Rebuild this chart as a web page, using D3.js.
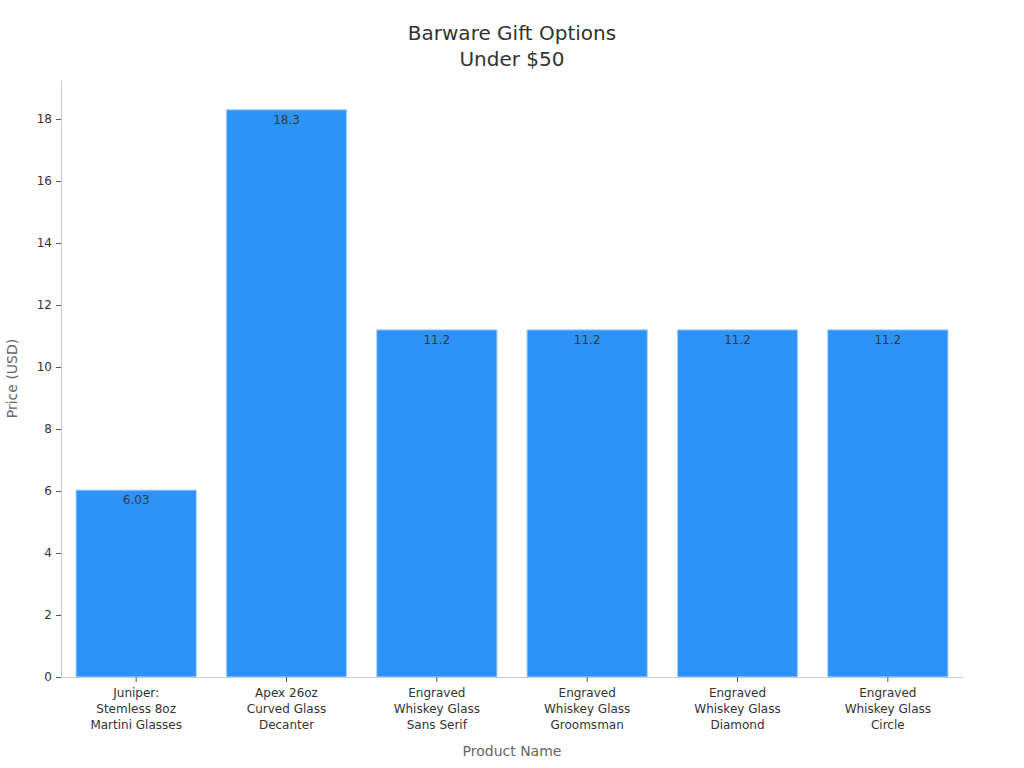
<!DOCTYPE html>
<html>
<head>
<meta charset="utf-8">
<script src="https://cdn.jsdelivr.net/npm/d3@7"></script>
<style>
  body { margin: 0; background: #fff; }
  text { font-family: "DejaVu Sans", sans-serif; }
</style>
</head>
<body>
<svg id="chart" width="1024" height="768"></svg>
<script>
// data
const products = [
  ["Juniper:", "Stemless 8oz", "Martini Glasses"],
  ["Apex 26oz", "Curved Glass", "Decanter"],
  ["Engraved", "Whiskey Glass", "Sans Serif"],
  ["Engraved", "Whiskey Glass", "Groomsman"],
  ["Engraved", "Whiskey Glass", "Diamond"],
  ["Engraved", "Whiskey Glass", "Circle"]
];
const prices = [6.03, 18.3, 11.2, 11.2, 11.2, 11.2];
const priceLabels = ["6.03", "18.3", "11.2", "11.2", "11.2", "11.2"];
const yTicks = [0, 2, 4, 6, 8, 10, 12, 14, 16, 18];

const svg = d3.select("#chart");
const margin = { left: 61, right: 61, top: 80, bottom: 91 };
const width = 1024, height = 768;

const x = d3.scaleBand()
  .domain(d3.range(products.length))
  .range([margin.left, width - margin.right])
  .paddingInner(0.2)
  .paddingOuter(0.1);

const y = d3.scaleLinear()
  .domain([0, 19.26])
  .range([height - margin.bottom, margin.top]);

// title
svg.append("text")
  .attr("x", width / 2)
  .attr("y", 40)
  .attr("text-anchor", "middle")
  .attr("font-size", "20px")
  .attr("fill", "#333")
  .selectAll("tspan")
  .data(["Barware Gift Options", "Under $50"])
  .join("tspan")
    .attr("x", width / 2)
    .attr("dy", (d, i) => i === 0 ? 0 : 26)
    .text(d => d);

// bars
svg.append("g")
  .selectAll("rect")
  .data(prices)
  .join("rect")
    .attr("x", (d, i) => x(i))
    .attr("y", d => y(d))
    .attr("width", x.bandwidth())
    .attr("height", d => y(0) - y(d))
    .attr("fill", "#2e93f9")
    .attr("stroke", "#a9d2fb")
    .attr("stroke-width", 1);

// value labels
svg.append("g")
  .selectAll("text")
  .data(prices)
  .join("text")
    .attr("x", (d, i) => x(i) + x.bandwidth() / 2)
    .attr("y", d => y(d) + 14)
    .attr("text-anchor", "middle")
    .attr("font-size", "12px")
    .attr("fill", "#3a3a3a")
    .text((d, i) => priceLabels[i]);

// y axis
const yAxis = svg.append("g")
  .attr("transform", `translate(${margin.left},0)`)
  .call(d3.axisLeft(y).tickValues(yTicks).tickSize(5).tickPadding(4).tickSizeOuter(0));
yAxis.select(".domain").attr("stroke", "#ccc");
yAxis.selectAll(".tick line").attr("stroke", "#555");
yAxis.selectAll(".tick text")
  .attr("font-size", "12px")
  .attr("fill", "#333")
  .attr("font-family", "DejaVu Sans, sans-serif");

// x axis
const xAxis = svg.append("g")
  .attr("transform", `translate(0,${y(0)})`)
  .call(d3.axisBottom(x).tickSize(5).tickSizeOuter(0).tickFormat(""));
xAxis.select(".domain").attr("stroke", "#ccc");
xAxis.selectAll(".tick line").attr("stroke", "#555");

svg.append("g")
  .selectAll("text")
  .data(products)
  .join("text")
    .attr("x", (d, i) => x(i) + x.bandwidth() / 2)
    .attr("y", y(0) + 20)
    .attr("text-anchor", "middle")
    .attr("font-size", "12px")
    .attr("fill", "#333")
    .selectAll("tspan")
    .data(d => d)
    .join("tspan")
      .attr("x", function() { return this.parentNode.getAttribute("x"); })
      .attr("dy", (d, i) => i === 0 ? 0 : 16)
      .text(d => d);

// axis titles
svg.append("text")
  .attr("x", (margin.left + width - margin.right) / 2)
  .attr("y", 756)
  .attr("text-anchor", "middle")
  .attr("font-size", "14px")
  .attr("fill", "#666")
  .text("Product Name");

svg.append("text")
  .attr("transform", `translate(17,${(margin.top + y(0)) / 2}) rotate(-90)`)
  .attr("text-anchor", "middle")
  .attr("font-size", "14px")
  .attr("fill", "#666")
  .text("Price (USD)");
</script>
</body>
</html>
